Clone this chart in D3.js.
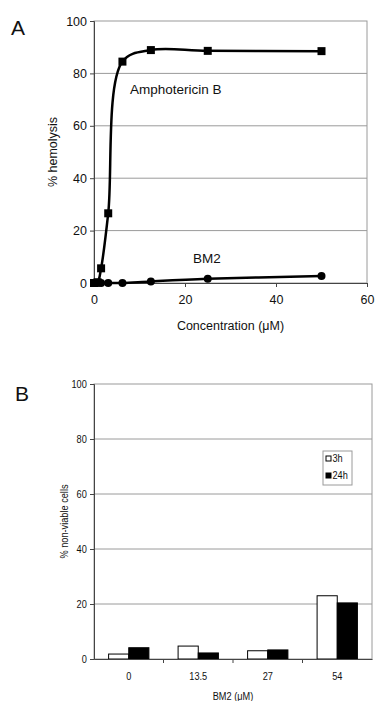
<!DOCTYPE html>
<html>
<head>
<meta charset="utf-8">
<script src="https://cdn.jsdelivr.net/npm/d3@7"></script>
<style>
  body { margin: 0; background: #fff; }
  text { fill: #111; }
  .grid { stroke: #9a9a9a; stroke-width: 1; }
  .frame { fill: none; stroke: #9a9a9a; stroke-width: 1; }
</style>
</head>
<body>
<div id="chart"></div>
<script>
// Panel A data: concentration (uM) vs % hemolysis
const concAmpho = [0, 0.78, 1.56, 3.125, 6.25, 12.5, 25, 50];
const hemoAmpho = [0, 0.3, 5.6, 26.6, 84.5, 88.9, 88.6, 88.5];
const concBM2 = [0, 0.78, 1.56, 3.125, 6.25, 12.5, 25, 50];
const hemoBM2 = [0, 0, 0, 0, 0, 0.6, 1.6, 2.7];
const ticksA_x = [0, 20, 40, 60];
const ticksA_y = [0, 20, 40, 60, 80, 100];

// Panel B data: BM2 dose vs % non-viable cells
const dosesB = ["0", "13.5", "27", "54"];
const viab3h = [1.8, 4.7, 3.0, 23.0];
const viab24h = [4.1, 2.2, 3.3, 20.4];
const seriesB = ["3h", "24h"];
const ticksB_y = [0, 20, 40, 60, 80, 100];

const W = 375, H = 701;
const NARROW = 0.8; // horizontal squeeze for the condensed text of panel B

const svg = d3.select("#chart").append("svg")
    .attr("width", W).attr("height", H)
    .style("font-family", "'Liberation Sans', Arial, sans-serif");

svg.append("rect").attr("width", W).attr("height", H).attr("fill", "#fff");

// ---------- Panel A ----------
const xA = d3.scaleLinear().domain([0, 60]).range([94, 367]);
const yA = d3.scaleLinear().domain([0, 100]).range([283, 21]);

svg.append("text").attr("x", 11).attr("y", 35)
    .style("font-size", "21px").text("A");

svg.selectAll(".gridA").data(ticksA_y.filter(d => d > 0 && d < 100))
    .enter().append("line").attr("class", "grid")
    .attr("x1", xA(0)).attr("x2", xA(60))
    .attr("y1", d => yA(d)).attr("y2", d => yA(d));

svg.append("rect").attr("class", "frame")
    .attr("x", xA(0)).attr("y", yA(100))
    .attr("width", xA(60) - xA(0)).attr("height", yA(0) - yA(100));

const axA_y = svg.append("g").attr("transform", `translate(${xA(0)},0)`)
    .call(d3.axisLeft(yA).tickValues(ticksA_y).tickSize(4).tickPadding(3));
const axA_x = svg.append("g").attr("transform", `translate(0,${yA(0)})`)
    .call(d3.axisBottom(xA).tickValues(ticksA_x).tickSize(4).tickPadding(8));
[axA_y, axA_x].forEach(g => {
    g.select(".domain").attr("stroke", "#444");
    g.selectAll(".tick line").attr("stroke", "#444");
    g.selectAll("text").style("font-size", "12.5px").attr("fill", "#111");
});

svg.append("text")
    .attr("transform", `translate(57,${yA(50)}) rotate(-90)`)
    .attr("text-anchor", "middle").style("font-size", "12.5px")
    .text("% hemolysis");
svg.append("text").attr("x", xA(30)).attr("y", 330)
    .attr("text-anchor", "middle").style("font-size", "12.5px")
    .text("Concentration (\u03bcM)");

const ampho = concAmpho.map((c, i) => ({ x: c, y: hemoAmpho[i] }));
const bm2 = concBM2.map((c, i) => ({ x: c, y: hemoBM2[i] }));

const lineA = d3.line().x(d => xA(d.x)).y(d => yA(d.y))
    .curve(d3.curveCatmullRom.alpha(0.5));

svg.append("path").datum(ampho).attr("d", lineA)
    .attr("fill", "none").attr("stroke", "#000").attr("stroke-width", 2.5);
svg.append("path").datum(bm2).attr("d", lineA)
    .attr("fill", "none").attr("stroke", "#000").attr("stroke-width", 2.5);

svg.selectAll(".sq").data(ampho).enter().append("rect")
    .attr("x", d => xA(d.x) - 4).attr("y", d => yA(d.y) - 4)
    .attr("width", 8).attr("height", 8).attr("fill", "#000");
svg.selectAll(".dot").data(bm2).enter().append("circle")
    .attr("cx", d => xA(d.x)).attr("cy", d => yA(d.y))
    .attr("r", 4).attr("fill", "#000");

svg.append("text").attr("x", 130).attr("y", 94)
    .style("font-size", "13.5px").text("Amphotericin B");
svg.append("text").attr("x", 207).attr("y", 263)
    .attr("text-anchor", "middle").style("font-size", "13.5px").text("BM2");

// ---------- Panel B ----------
const xB = d3.scaleBand().domain(dosesB).range([94, 372])
    .paddingInner(0.42).paddingOuter(0.21);
const xB1 = d3.scaleBand().domain(seriesB).range([0, xB.bandwidth()]);
const yB = d3.scaleLinear().domain([0, 100]).range([659, 384]);

svg.append("text").attr("x", 15).attr("y", 401)
    .style("font-size", "21px").text("B");

svg.selectAll(".gridB").data(ticksB_y.filter(d => d > 0 && d < 100))
    .enter().append("line").attr("class", "grid")
    .attr("x1", 94).attr("x2", 372)
    .attr("y1", d => yB(d)).attr("y2", d => yB(d));
svg.append("rect").attr("class", "frame")
    .attr("x", 94).attr("y", yB(100))
    .attr("width", 372 - 94).attr("height", yB(0) - yB(100));

const rowsB = dosesB.map((d, i) => ({ dose: d, vals: [viab3h[i], viab24h[i]] }));
const groups = svg.selectAll(".grp").data(rowsB).enter().append("g")
    .attr("transform", d => `translate(${xB(d.dose)},0)`);
groups.selectAll("rect").data(d => d.vals.map((v, j) => ({ s: seriesB[j], v })))
    .enter().append("rect")
    .attr("x", d => xB1(d.s)).attr("width", xB1.bandwidth())
    .attr("y", d => yB(d.v)).attr("height", d => yB(0) - yB(d.v))
    .attr("fill", d => d.s === "3h" ? "#fff" : "#000")
    .attr("stroke", "#000").attr("stroke-width", 1);

const axB_y = svg.append("g").attr("transform", "translate(94,0)")
    .call(d3.axisLeft(yB).tickValues(ticksB_y).tickSize(4).tickPadding(5));
const axB_x = svg.append("g").attr("transform", `translate(0,${yB(0)})`)
    .call(d3.axisBottom(xB).tickSize(0).tickPadding(13));
[axB_y, axB_x].forEach(g => {
    g.select(".domain").attr("stroke", "#444");
    g.selectAll(".tick line").attr("stroke", "#444");
    g.selectAll("text").style("font-size", "11.5px").attr("fill", "#111")
        .attr("transform", `scale(${NARROW},1)`);
});
// tick marks between categories
const stepB = xB.step();
svg.selectAll(".sep").data(dosesB.slice(1)).enter().append("line")
    .attr("x1", d => xB(d) - stepB * xB.paddingInner() / 2)
    .attr("x2", d => xB(d) - stepB * xB.paddingInner() / 2)
    .attr("y1", yB(0)).attr("y2", yB(0) + 4).attr("stroke", "#444");

svg.append("text")
    .attr("transform", `translate(68,${yB(50)}) rotate(-90) scale(${NARROW},1)`)
    .attr("text-anchor", "middle").style("font-size", "11.5px")
    .text("% non-viable cells");
svg.append("text")
    .attr("transform", `translate(233,700) scale(${NARROW},1)`)
    .attr("text-anchor", "middle").style("font-size", "11.5px")
    .text("BM2 (\u03bcM)");

// legend
const leg = svg.append("g").attr("transform", "translate(323,451)");
leg.append("rect").attr("width", 29).attr("height", 34)
    .attr("fill", "#fff").attr("stroke", "#9a9a9a");
seriesB.forEach((s, i) => {
    leg.append("rect").attr("x", 3).attr("y", 5 + i * 17)
        .attr("width", 5).attr("height", 5)
        .attr("fill", s === "3h" ? "#fff" : "#000").attr("stroke", "#000");
    leg.append("text").attr("transform", `translate(9.5,${11 + i * 17}) scale(${NARROW},1)`)
        .style("font-size", "11.5px").text(s);
});
</script>
</body>
</html>
